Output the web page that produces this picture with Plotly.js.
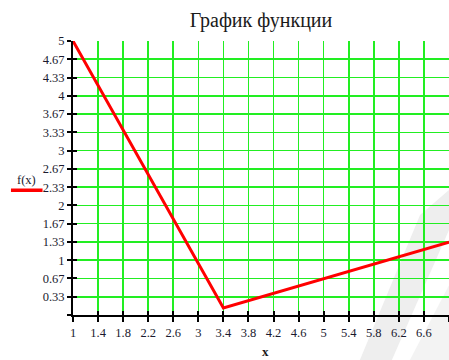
<!DOCTYPE html>
<html>
<head>
<meta charset="utf-8">
<script src="https://cdn.plot.ly/plotly-3.0.1.min.js"></script>
<style>html,body{margin:0;padding:0;background:#fff}#chart{width:449px;height:360px}</style>
</head>
<body>
<div id="chart"></div>
<script>
// Data
const xValues = [1, 3.4, 7];
const fValues = [5, 0.13, 1.33];
const xTickLabels = ["1","1.4","1.8","2.2","2.6","3","3.4","3.8","4.2","4.6","5","5.4","5.8","6.2","6.6",""];
const xTickVals = [1,1.4,1.8,2.2,2.6,3,3.4,3.8,4.2,4.6,5,5.4,5.8,6.2,6.6,7];
const yTickLabels = ["","0.33","0.67","1","1.33","1.67","2","2.33","2.67","3","3.33","3.67","4","4.33","4.67","5"];
const yTickVals = [0,0.3333,0.6667,1,1.3333,1.6667,2,2.3333,2.6667,3,3.3333,3.6667,4,4.3333,4.6667,5];
const chartTitle = "График функции";
const xTitle = "x";
const yTitle = "f(x)";

const serif = "Liberation Serif";
const trace = {
  x: xValues, y: fValues, type: 'scatter', mode: 'lines',
  line: {color: '#ff0000', width: 3}, hoverinfo: 'skip', showlegend: false
};
const trace2 = {x: [1], y: [0], xaxis: 'x2', yaxis: 'y2', type: 'scatter', mode: 'markers',
  marker: {opacity: 0}, showlegend: false, hoverinfo: 'skip'};

const layout = {
  width: 449, height: 360,
  font: {family: serif},
  margin: {l: 73, r: 0, t: 41, b: 45, pad: 0},
  paper_bgcolor: '#ffffff', plot_bgcolor: '#ffffff',
  title: {text: chartTitle, font: {family: serif, size: 20, color: '#1a1a1a'},
          x: 0.5, xref: 'paper', xanchor: 'center', y: 0.944, yanchor: 'middle'},
  xaxis: {
    range: [1, 7], tickmode: 'array', tickvals: xTickVals, ticktext: xTickLabels,
    showgrid: true, gridcolor: '#22ee22', gridwidth: 1.6,
    showline: true, linecolor: '#000', linewidth: 2, zeroline: false,
    ticks: 'outside', ticklen: 5, tickwidth: 2, tickcolor: '#000',
    tickfont: {family: serif, size: 12.5, color: '#1a1a2e'}, fixedrange: true
  },
  yaxis: {
    range: [0, 5], tickmode: 'array', tickvals: yTickVals, ticktext: yTickLabels,
    showgrid: true, gridcolor: '#22ee22', gridwidth: 1.6,
    showline: true, linecolor: '#000', linewidth: 2, zeroline: false,
    ticks: 'outside', ticklen: 4, tickwidth: 2, tickcolor: '#000',
    ticklabelstandoff: 0,
    tickfont: {family: serif, size: 12.5, color: '#1a1a2e'}, fixedrange: true
  },
  xaxis2: {range: [1, 7], overlaying: 'x', tickmode: 'array', tickvals: xTickVals,
    showticklabels: false, showgrid: false, zeroline: false, showline: false,
    ticks: 'inside', ticklen: 4, tickwidth: 2, tickcolor: '#000', fixedrange: true},
  yaxis2: {range: [0, 5], overlaying: 'y', tickmode: 'array', tickvals: yTickVals,
    showticklabels: false, showgrid: false, zeroline: false, showline: false,
    ticks: 'inside', ticklen: 4, tickwidth: 2, tickcolor: '#000', fixedrange: true},
  annotations: [
    {text: '<b>' + xTitle + '</b>', xref: 'paper', yref: 'paper', x: 0.511, y: -0.135,
     xanchor: 'center', yanchor: 'middle', showarrow: false,
     font: {family: serif, size: 13, color: '#1a1a1a'}},
    {text: yTitle, xref: 'paper', yref: 'paper', x: -0.124, y: 0.493,
     xanchor: 'center', yanchor: 'middle', showarrow: false,
     font: {family: serif, size: 12.5, color: '#1a1a2e'}}
  ],
  shapes: [
    {type: 'path', xref: 'paper', yref: 'paper', layer: 'below',
     path: 'M 0.923 0.365 L 1 0.456 L 1 0.31 L 0.848 -0.164 L 0.763 -0.164 Z',
     fillcolor: '#eeeeee', line: {width: 0}},
    {type: 'path', xref: 'paper', yref: 'paper', layer: 'below',
     path: 'M 0.896 -0.164 L 1 0.109 L 1 -0.164 Z',
     fillcolor: '#f3f3f3', line: {width: 0}},
    {type: 'line', xref: 'paper', yref: 'paper', x0: -0.165, x1: -0.081, y0: 0.455, y1: 0.455,
     line: {color: '#ff0000', width: 3.5}}
  ]
};
Plotly.newPlot('chart', [trace, trace2], layout, {displayModeBar: false, staticPlot: true});
</script>
</body>
</html>
